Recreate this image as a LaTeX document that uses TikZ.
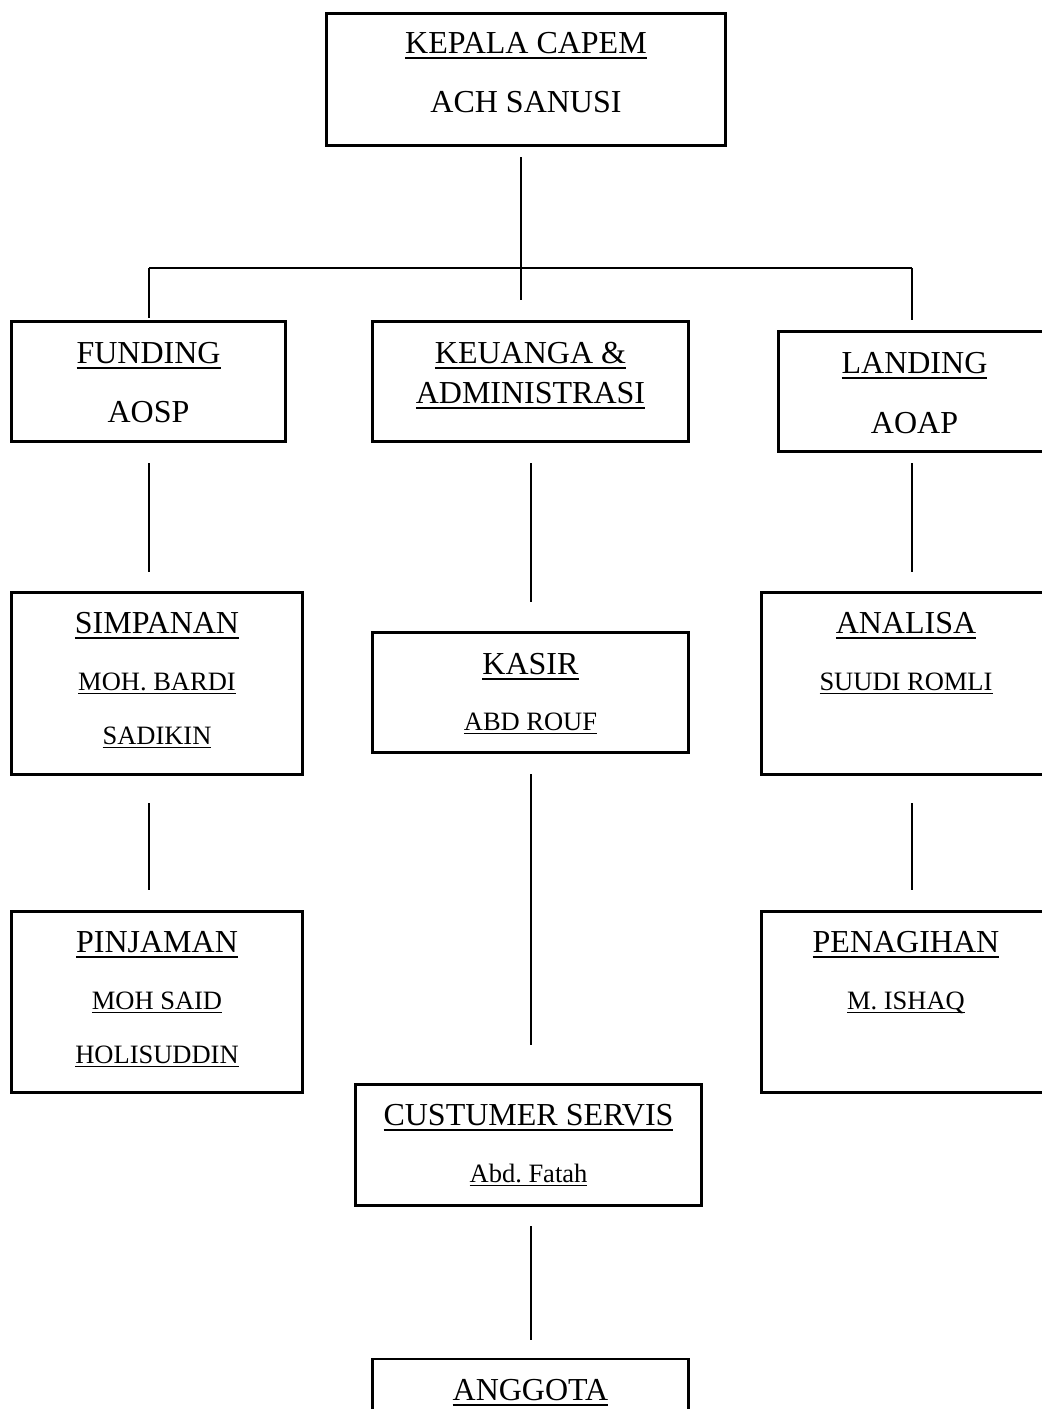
\documentclass[tikz,border=0pt]{standalone}
\usepackage{fontspec}
\setmainfont{Liberation Serif}
\usetikzlibrary{positioning}

% underline with set depth and thickness
\newlength{\uldp}
\newlength{\ulth}
\newcommand{\uline}[1]{\leavevmode\setbox0=\hbox{#1}%
  \rlap{\vrule width \wd0 height \dimexpr\ulth-\uldp\relax depth \uldp}\box0}

\tikzset{
  unitbox/.style={draw, line width=1.3pt, inner sep=0pt},
  headtxt/.style={anchor=base, inner sep=0pt,
    font={\fontsize{16}{19}\selectfont\setlength{\uldp}{3pt}\setlength{\ulth}{1pt}}},
  persontxt/.style={anchor=base, inner sep=0pt,
    font={\fontsize{13.25}{16}\selectfont\setlength{\uldp}{2.1pt}\setlength{\ulth}{0.75pt}}},
  link/.style={line width=1pt},
}

\begin{document}
\begin{tikzpicture}[x=0.5pt, y=-0.5pt]
\useasboundingbox (0,0) rectangle (1042,1409);

% Kepala capem
\node[unitbox, minimum width=199.7pt, minimum height=66.2pt] (kepala) at (526,79.5) {};
\node[headtxt] (kepala-t) at (526,53) {\uline{KEPALA CAPEM}};
\node[headtxt] (kepala-n) at (526,112) {ACH SANUSI};

% second level
\node[unitbox, minimum width=137.2pt, minimum height=60.2pt] (funding) at (148.5,381.5) {};
\node[headtxt] (funding-t) at (148.5,363) {\uline{FUNDING}};
\node[headtxt] (funding-n) at (148.5,422) {AOSP};

\node[unitbox, minimum width=158.2pt, minimum height=60.2pt] (keuangan) at (530.5,381.5) {};
\node[headtxt] (keuangan-t) at (530.5,363) {\uline{KEUANGA \&}};
\node[headtxt] (keuangan-n) at (530.5,403) {\uline{ADMINISTRASI}};

\node[unitbox, minimum width=136.2pt, minimum height=60.2pt] (landing) at (914.5,391.5) {};
\node[headtxt] (landing-t) at (914.5,373) {\uline{LANDING}};
\node[headtxt] (landing-n) at (914.5,433) {AOAP};

% third level
\node[unitbox, minimum width=145.7pt, minimum height=91.2pt] (simpanan) at (157,683.5) {};
\node[headtxt] (simpanan-t) at (157,633) {\uline{SIMPANAN}};
\node[persontxt] (simpanan-n1) at (157,690) {\uline{MOH. BARDI}};
\node[persontxt] (simpanan-n2) at (157,744) {\uline{SADIKIN}};

\node[unitbox, minimum width=158.2pt, minimum height=60.2pt] (kasir) at (530.5,692.5) {};
\node[headtxt] (kasir-t) at (530.5,674) {\uline{KASIR}};
\node[persontxt] (kasir-n) at (530.5,730) {\uline{ABD ROUF}};

\node[unitbox, minimum width=144.7pt, minimum height=91.2pt] (analisa) at (906,683.5) {};
\node[headtxt] (analisa-t) at (906,633) {\uline{ANALISA}};
\node[persontxt] (analisa-n) at (906,690) {\uline{SUUDI ROMLI}};

% fourth level
\node[unitbox, minimum width=145.7pt, minimum height=90.7pt] (pinjaman) at (157,1002) {};
\node[headtxt] (pinjaman-t) at (157,952) {\uline{PINJAMAN}};
\node[persontxt] (pinjaman-n1) at (157,1009) {\uline{MOH SAID}};
\node[persontxt] (pinjaman-n2) at (157,1063) {\uline{HOLISUDDIN}};

\node[unitbox, minimum width=144.7pt, minimum height=90.7pt] (penagihan) at (906,1002) {};
\node[headtxt] (penagihan-t) at (906,952) {\uline{PENAGIHAN}};
\node[persontxt] (penagihan-n) at (906,1009) {\uline{M. ISHAQ}};

\node[unitbox, minimum width=173.2pt, minimum height=60.7pt] (custumer) at (528.5,1145) {};
\node[headtxt] (custumer-t) at (528.5,1125) {\uline{CUSTUMER SERVIS}};
\node[persontxt] (custumer-n) at (528.5,1182) {\uline{Abd.\ Fatah}};

\node[unitbox, minimum width=158.2pt, minimum height=60.2pt] (anggota) at (530.5,1419) {};
\node[headtxt] (anggota-t) at (530.5,1400) {\uline{ANGGOTA}};

% bus lines
\coordinate (hub) at (521,268);
\coordinate (busL) at (149,268);
\coordinate (busR) at (912,268);
\draw[link, shorten <=5pt, shorten >=-16pt] (kepala.south -| hub) -- (hub);
\draw[link] (busL) -- (busR);
\draw[link, shorten >=1pt] (busL) -- (busL |- funding.north);
\draw[link, shorten >=5pt] (busR) -- (busR |- landing.north);

% columns
\draw[link, shorten <=10pt, shorten >=9.5pt] (funding.south -| busL) -- (simpanan.north -| busL);
\draw[link, shorten <=13.5pt, shorten >=10pt] (simpanan.south -| busL) -- (pinjaman.north -| busL);
\draw[link, shorten <=10pt, shorten >=14.5pt] (keuangan.south) -- (kasir.north);
\draw[link, shorten <=10pt, shorten >=19pt] (kasir.south) -- (kasir.south |- custumer.north);
\draw[link, shorten <=9.5pt, shorten >=9pt] (custumer.south -| anggota.north) -- (anggota.north);
\draw[link, shorten <=5pt, shorten >=9.5pt] (landing.south -| busR) -- (analisa.north -| busR);
\draw[link, shorten <=13.5pt, shorten >=10pt] (analisa.south -| busR) -- (penagihan.north -| busR);
\end{tikzpicture}
\end{document}
